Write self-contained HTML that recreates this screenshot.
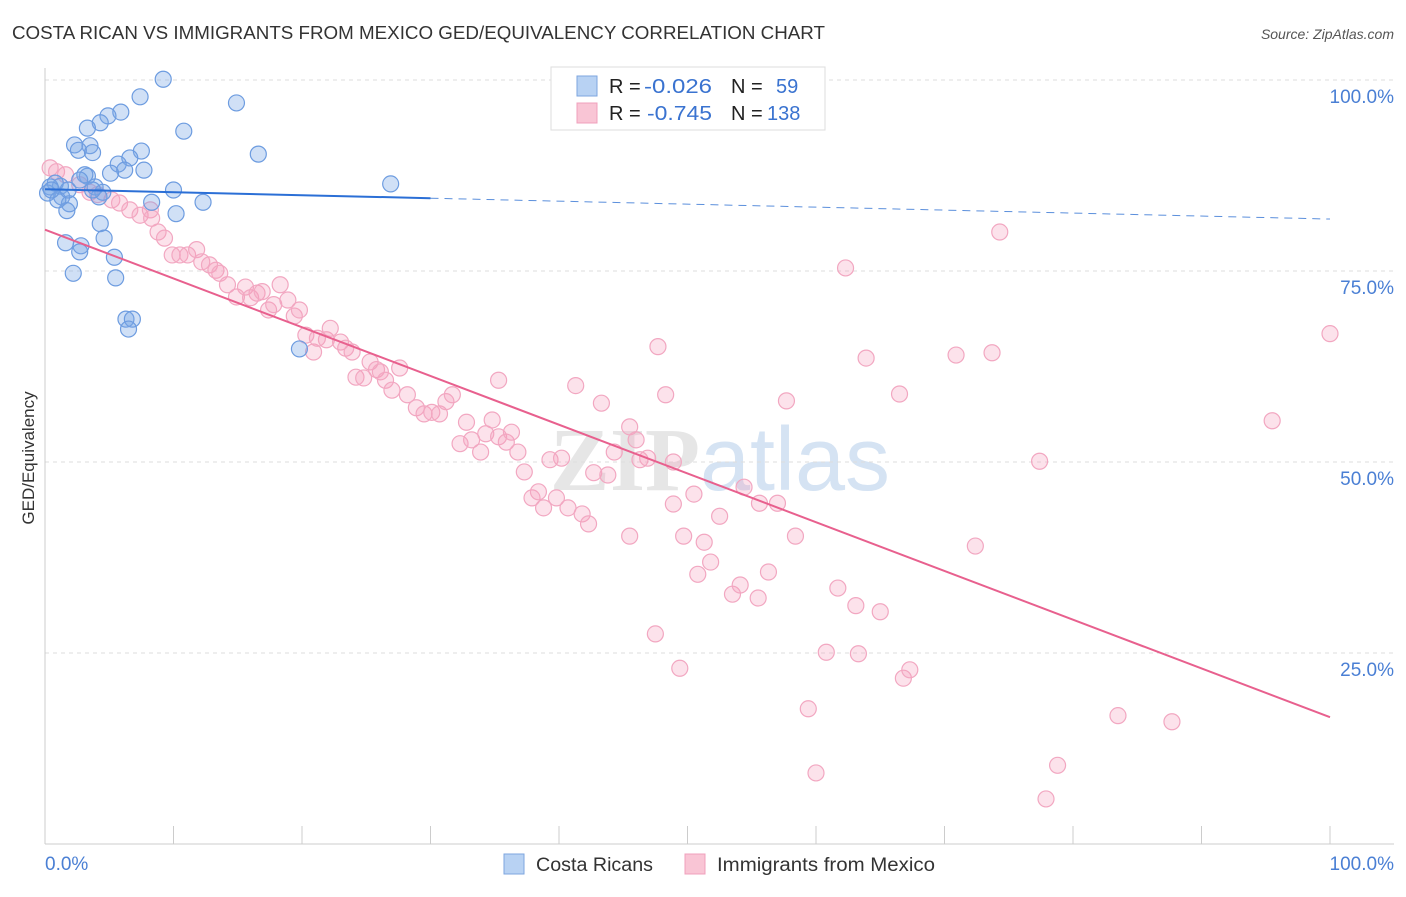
<!DOCTYPE html>
<html><head><meta charset="utf-8"><style>
body{margin:0;background:#fff;font-family:"Liberation Sans",sans-serif}
svg text{font-family:"Liberation Sans",sans-serif}
</style></head><body>
<svg id="chart" width="1406" height="892">
<text x="12" y="39" font-size="18" fill="#333" textLength="813" lengthAdjust="spacingAndGlyphs">COSTA RICAN VS IMMIGRANTS FROM MEXICO GED/EQUIVALENCY CORRELATION CHART</text>
<text x="1394" y="39" font-size="14" fill="#555" font-style="italic" text-anchor="end">Source: ZipAtlas.com</text>
<text x="720" y="490" font-size="90" fill="#e4ecf5" text-anchor="middle" font-weight="bold"><tspan fill="#e6e6e6" font-family="Liberation Serif">ZIP</tspan><tspan fill="#d5e3f3" font-weight="normal">atlas</tspan></text>
<g id="grid"></g><g id="pts"></g><g id="trend"></g>
<text transform="translate(34,458) rotate(-90)" font-size="17" fill="#333" text-anchor="middle">GED/Equivalency</text>
<text x="45" y="870" font-size="19" fill="#4a7fd4">0.0%</text>
<text x="1394" y="870" font-size="19" fill="#4a7fd4" text-anchor="end">100.0%</text>
<g>
<rect x="551" y="67" width="274" height="63" fill="#fff" stroke="#ddd"/>
<rect x="577" y="76" width="20" height="20" fill="#b8d2f3" stroke="#7ea6df"/>
<rect x="577" y="103" width="20" height="20" fill="#f9c5d5" stroke="#f0a0bc"/>
<text x="609" y="93" font-size="20" fill="#222">R = <tspan x="644" fill="#3a73d0" textLength="68" lengthAdjust="spacingAndGlyphs">-0.026</tspan><tspan x="731">N = </tspan><tspan x="776" fill="#3a73d0">59</tspan></text>
<text x="609" y="120" font-size="20" fill="#222">R = <tspan x="647" fill="#3a73d0" textLength="65" lengthAdjust="spacingAndGlyphs">-0.745</tspan><tspan x="731">N = </tspan><tspan x="767" fill="#3a73d0">138</tspan></text>
</g>
<g>
<rect x="504" y="854" width="20" height="20" fill="#b8d2f3" stroke="#7ea6df"/>
<text x="536" y="871" font-size="19" fill="#333" textLength="117" lengthAdjust="spacingAndGlyphs">Costa Ricans</text>
<rect x="685" y="854" width="20" height="20" fill="#f9c5d5" stroke="#f0a0bc"/>
<text x="717" y="871" font-size="19" fill="#333" textLength="218" lengthAdjust="spacingAndGlyphs">Immigrants from Mexico</text>
</g>
</svg>
<script>
const yTicks=[25,50,75,100];
const yTickLabels=["25.0%","50.0%","75.0%","100.0%"];
const xTicks=[0,10,20,30,40,50,60,70,80,90,100];
const blueX=[9.2,7.4,14.9,5.9,4.9,4.3,3.3,10.8,2.3,3.5,2.6,3.7,7.5,6.6,5.7,6.2,5.1,7.7,16.6,10.0,26.9,3.3,3.9,4.5,4.2,1.2,0.8,0.4,0.2,1.3,1.9,1.7,8.3,10.2,12.3,4.3,4.6,1.6,2.8,2.7,5.4,2.2,5.5,6.3,6.8,6.5,19.8,1.0,3.1,0.5,1.8,2.7,3.7];
const blueY=[100.1,97.8,97.0,95.8,95.3,94.4,93.7,93.3,91.5,91.4,90.8,90.5,90.7,89.8,89.0,88.2,87.8,88.2,90.3,85.6,86.4,87.4,86.0,85.3,84.7,86.1,86.5,86.0,85.2,84.7,83.8,82.9,84.0,82.5,84.0,81.2,79.3,78.7,78.3,77.5,76.8,74.7,74.1,68.7,68.7,67.4,64.8,84.3,87.6,85.6,85.6,86.9,85.6];
const pinkX=[0.4,0.9,1.6,2.7,3.5,4.1,5.2,5.8,6.6,7.4,8.2,8.3,8.8,9.3,9.9,10.5,11.1,11.8,12.2,12.8,13.3,13.6,14.2,14.9,15.6,16.0,16.5,16.9,17.4,17.8,18.3,18.9,19.4,19.8,20.3,20.9,21.2,21.9,22.2,23.0,23.4,23.9,24.2,24.8,25.3,25.8,26.1,26.5,27.0,27.6,28.2,28.9,29.5,30.1,30.7,31.2,31.7,32.3,32.8,33.2,33.9,34.3,34.8,35.3,35.9,36.3,36.8,37.3,35.3,37.9,38.4,38.8,39.3,39.8,40.2,40.7,41.3,41.8,42.3,42.7,43.3,43.8,44.3,45.5,46.0,46.3,46.9,47.7,48.3,48.9,48.9,45.5,47.5,49.4,49.7,50.5,50.8,51.3,51.8,52.5,53.5,54.1,54.4,55.5,55.6,56.3,57.0,57.7,58.4,59.4,60.0,60.8,61.7,62.3,63.1,63.3,63.9,65.0,66.5,66.8,67.3,70.9,73.7,74.3,72.4,77.4,77.9,78.8,83.5,87.7,95.5,100,56.4];
const pinkY=[88.5,88.0,87.6,86.3,85.3,85.0,84.3,83.9,83.0,82.3,83.0,81.9,80.1,79.3,77.1,77.1,77.1,77.8,76.2,75.8,75.1,74.7,73.2,71.6,72.9,71.5,72.1,72.3,69.9,70.6,73.2,71.2,69.1,69.9,66.6,64.4,66.2,66.0,67.5,65.7,64.9,64.4,61.1,61.0,63.1,62.1,61.8,60.7,59.4,62.3,58.8,57.1,56.3,56.5,56.3,57.9,58.8,52.4,55.2,52.9,51.3,53.7,55.5,53.3,52.6,53.9,51.3,48.7,60.7,45.3,46.1,44.0,50.3,45.3,50.5,44.0,60.0,43.2,41.9,48.6,57.7,48.3,51.3,54.6,52.9,50.3,50.5,65.1,58.8,50.0,44.5,40.3,27.5,23.0,40.3,45.8,35.3,39.5,36.9,42.9,32.7,33.9,46.7,32.2,44.6,35.6,44.6,58.0,40.3,17.7,9.3,25.1,33.5,75.4,31.2,24.9,63.6,30.4,58.9,21.7,22.8,64.0,64.3,80.1,39.0,50.1,5.9,10.3,16.8,16.0,55.4,66.8,100.0];
const blueTrend=[85.7,81.8];
const pinkTrend=[80.4,16.6];
const NS="http://www.w3.org/2000/svg";
const X=v=>45+v*12.85, Y=v=>844-v*7.64;
function mk(tag,attrs,parent){const e=document.createElementNS(NS,tag);for(const k in attrs)e.setAttribute(k,attrs[k]);parent.appendChild(e);return e;}
const grid=document.getElementById('grid'),pts=document.getElementById('pts'),tr=document.getElementById('trend');
yTicks.forEach((t,i)=>{
 const l=mk('line',{x1:45,x2:1394,y1:Y(t),y2:Y(t),stroke:'#ddd','stroke-dasharray':'4,4'},grid);
 
 
 const tx=mk('text',{x:1394,y:Y(t)+23,'font-size':19,fill:'#4a7fd4','text-anchor':'end'},grid);
 tx.textContent=yTickLabels[i];
 
 
});
const ax=mk('line',{x1:45,x2:1394,y1:844,y2:844,stroke:'#ccc'},grid);


const ay=mk('line',{x1:45,x2:45,y1:68,y2:844,stroke:'#ccc'},grid);


xTicks.forEach(t=>{
 const l=mk('line',{x1:X(t),x2:X(t),y1:826,y2:844,stroke:'#ccc'},grid);
 
 
});
pinkX.forEach((x,i)=>{
 const c=mk('circle',{cx:X(x),cy:Y(pinkY[i]),r:8,fill:'rgba(244,160,190,0.3)',stroke:'#f2a7c1','stroke-width':1.2},pts);
 
 
});
blueX.forEach((x,i)=>{
 const c=mk('circle',{cx:X(x),cy:Y(blueY[i]),r:8,fill:'rgba(120,165,230,0.35)',stroke:'#6d9ce0','stroke-width':1.2},pts);
 
 
});
const bAt=v=>blueTrend[0]+(blueTrend[1]-blueTrend[0])*v/100;
const b1=mk('line',{x1:X(0),y1:Y(bAt(0)),x2:X(30),y2:Y(bAt(30)),stroke:'#2b6fd6','stroke-width':2},tr);


const b2=mk('line',{x1:X(30),y1:Y(bAt(30)),x2:X(100),y2:Y(bAt(100)),stroke:'#5b8fdc','stroke-width':1,'stroke-dasharray':'8,6'},tr);


const p=mk('line',{x1:X(0),y1:Y(pinkTrend[0]),x2:X(100),y2:Y(pinkTrend[1]),stroke:'#e8608e','stroke-width':2},tr);


</script>
</body></html>
